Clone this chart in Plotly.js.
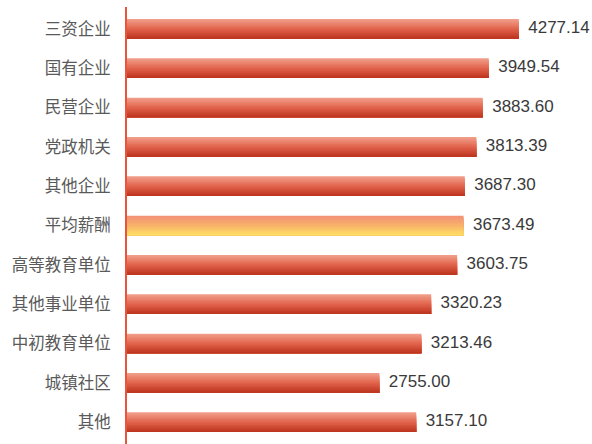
<!DOCTYPE html>
<html>
<head>
<meta charset="utf-8">
<script src="https://cdn.plot.ly/plotly-3.0.1.min.js"></script>
<style>html,body{margin:0;padding:0;background:#fff}#chart{width:592px;height:444px}</style>
</head>
<body>
<div id="chart"></div>
<script>
const categories = ["三资企业","国有企业","民营企业","党政机关","其他企业","平均薪酬","高等教育单位","其他事业单位","中初教育单位","城镇社区","其他"];
const values = [4277.14,3949.54,3883.60,3813.39,3687.30,3673.49,3603.75,3320.23,3213.46,2755.00,3157.10];
const valueLabels = ["4277.14","3949.54","3883.60","3813.39","3687.30","3673.49","3603.75","3320.23","3213.46","2755.00","3157.10"];
const highlight = "平均薪酬";

function lerp(a,b,t){return a.map((v,i)=>Math.round(v+(b[i]-v)*t));}
function rgb(c){return "rgb("+c.join(",")+")";}
const redTop=[240,156,136], redMid=[226,100,76], redBot=[190,54,32];
const avgTop=[243,146,118], avgMid=[248,178,106], avgBot=[253,222,98];
function grad(top,mid,bot,t){return t<0.5?lerp(top,mid,t/0.5):lerp(mid,bot,(t-0.5)/0.5);}

// layered bars: each layer starts lower and reaches the bar bottom, so no seams
const N=14, W=0.5, sw=W/N;
const traces=[];
for(let i=0;i<N;i++){
  const t=i/(N-1);
  const cols=categories.map(c=>c===highlight?rgb(grad(avgTop,avgMid,avgBot,t)):rgb(grad(redTop,redMid,redBot,t)));
  traces.push({type:'bar',orientation:'h',y:categories,x:values,width:W-i*sw,offset:-W/2+i*sw,
    marker:{color:cols,line:{width:0}},hoverinfo:'skip',showlegend:false});
}
traces.push({type:'scatter',mode:'text',y:categories,x:values,text:valueLabels.map(s=>"\u00a0\u00a0"+s),
  textposition:'middle right',textfont:{family:'Liberation Sans, Arial, sans-serif',size:17,color:'#3a3a3a'},
  hoverinfo:'skip',showlegend:false,cliponaxis:false});

const layout={
  width:592,height:444,margin:{l:127,r:7,t:7,b:0},
  paper_bgcolor:'#fff',plot_bgcolor:'#fff',barmode:'overlay',showlegend:false,
  xaxis:{range:[0,5000],visible:false,showgrid:false,zeroline:false},
  yaxis:{autorange:'reversed',type:'category',showgrid:false,zeroline:false,
    showline:true,linecolor:'#e8553a',linewidth:2,ticks:'',ticklen:0,
    tickfont:{family:'Noto Sans CJK SC, sans-serif',size:16.5,color:'#5a5a5a'},ticklabelstandoff:11}
};
Plotly.newPlot('chart',traces,layout,{staticPlot:true,displayModeBar:false});
</script>
</body>
</html>
